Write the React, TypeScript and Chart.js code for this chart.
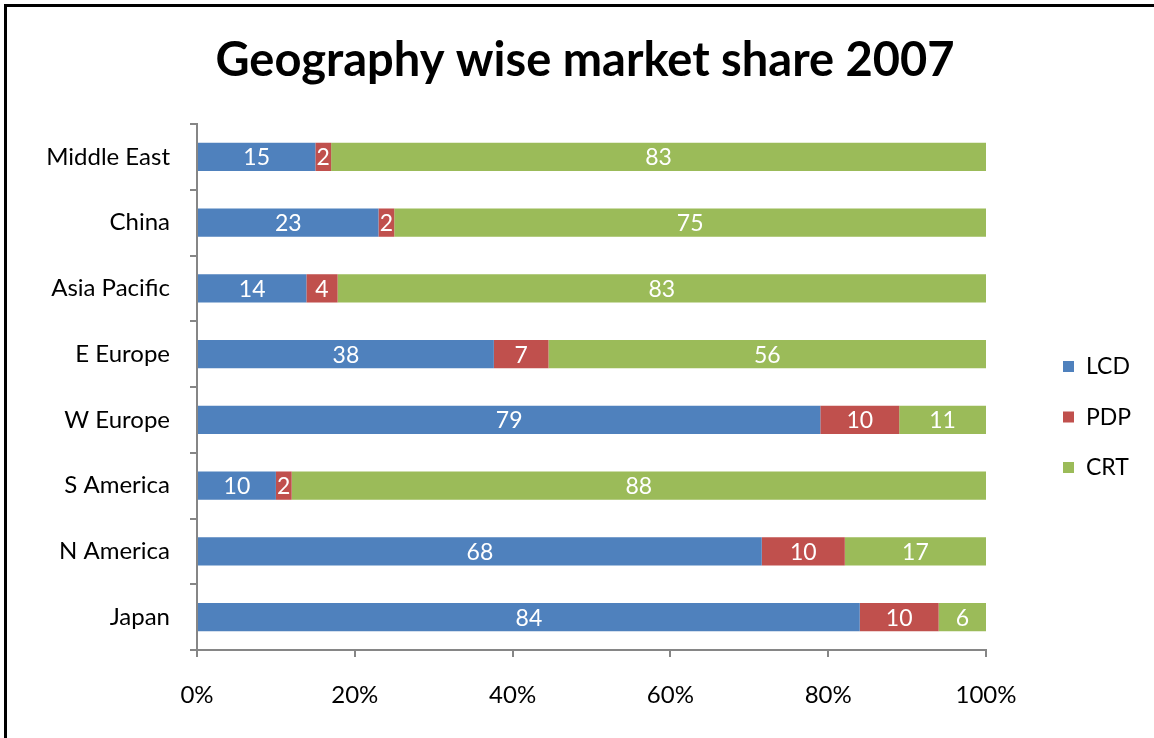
import React, { useEffect, useRef } from "react";
import { Chart, registerables } from "chart.js";

Chart.register(...registerables);

const categories = ["Middle East", "China", "Asia Pacific", "E Europe", "W Europe", "S America", "N America", "Japan"];
const lcdValues = [15, 23, 14, 38, 79, 10, 68, 84];
const pdpValues = [2, 2, 4, 7, 10, 2, 10, 10];
const crtValues = [83, 75, 83, 56, 11, 88, 17, 6];
const seriesNames = ["LCD", "PDP", "CRT"];
const seriesColors = ["#4F81BD", "#C0504D", "#9BBB59"];
const xTicks = [0, 20, 40, 60, 80, 100];
const titleText = "Geography wise market share 2007";

const FONT = "Lato, 'Noto Sans', sans-serif";

const rawSeries = [lcdValues, pdpValues, crtValues];
const totals = categories.map((_, i) => rawSeries.reduce((s, arr) => s + arr[i], 0));
const pctSeries = rawSeries.map((arr) => arr.map((v, i) => (v / totals[i]) * 100));

const labelPlugin = {
  id: "segLabels",
  afterDatasetsDraw(chart: any) {
    const ctx = chart.ctx;
    ctx.save();
    ctx.fillStyle = "#FFFFFF";
    ctx.font = `23px ${FONT}`;
    ctx.textAlign = "center";
    ctx.textBaseline = "middle";
    chart.data.datasets.forEach((ds: any, di: number) => {
      const meta = chart.getDatasetMeta(di);
      meta.data.forEach((bar: any, i: number) => {
        const raw = ds.raw[i];
        const cx = (bar.x + bar.base) / 2;
        ctx.fillText(String(raw), cx, bar.y + 1);
      });
    });
    ctx.restore();
  },
};

const titleLegendPlugin = {
  id: "titleLegend",
  afterDraw(chart: any) {
    const ctx = chart.ctx;
    ctx.save();
    ctx.fillStyle = "#000000";
    ctx.font = `bold 47px ${FONT}`;
    ctx.textAlign = "center";
    ctx.textBaseline = "middle";
    ctx.fillText(titleText, 585, 61);

    ctx.font = `23px ${FONT}`;
    ctx.textBaseline = "middle";
    ctx.textAlign = "left";
    chart.data.datasets.forEach((ds: any, di: number) => {
      const y = 366 + di * 50.5;
      ctx.fillStyle = ds.backgroundColor;
      ctx.fillRect(1063, y - 5, 11, 11);
      ctx.fillStyle = "#000000";
      ctx.fillText(ds.label, 1086, y + 1);
    });
    ctx.restore();
  },
};

export default function App() {
  const ref = useRef<HTMLCanvasElement>(null);
  useEffect(() => {
    if (!ref.current) return;
    const chart = new Chart(ref.current, {
      type: "bar",
      data: {
        labels: categories,
        datasets: seriesNames.map((name, k) => ({
          label: name,
          data: pctSeries[k],
          raw: rawSeries[k],
          backgroundColor: seriesColors[k],
          borderWidth: 0,
          barPercentage: 0.43,
          categoryPercentage: 1,
        })) as any,
      },
      options: {
        indexAxis: "y",
        responsive: false,
        animation: false,
        layout: { padding: { top: 124, left: 0, right: 168, bottom: 0 } },
        plugins: {
          legend: { display: false },
          tooltip: { enabled: false },
          title: { display: false },
        },
        scales: {
          x: {
            type: "linear",
            stacked: true,
            min: 0,
            max: 100,
            afterBuildTicks: (s: any) => {
              s.ticks = xTicks.map((v) => ({ value: v }));
            },
            afterFit: (s: any) => {
              s.height = 88;
            },
            ticks: {
              callback: (v: any) => v + "%",
              color: "#000000",
              font: { family: FONT, size: 24 },
              padding: 24,
            },
            grid: { drawOnChartArea: false, drawTicks: true, tickLength: 7, color: "#868686", lineWidth: 2 },
            border: { color: "#868686", width: 2 },
          },
          y: {
            stacked: true,
            afterFit: (s: any) => {
              s.width = 197;
            },
            ticks: {
              color: "#000000",
              font: { family: FONT, size: 24 },
              padding: 20,
            },
            grid: { offset: true, drawOnChartArea: false, drawTicks: true, tickLength: 7, color: "#868686", lineWidth: 2 },
            border: { color: "#868686", width: 2 },
          },
        },
      } as any,
      plugins: [labelPlugin, titleLegendPlugin],
    });
    return () => chart.destroy();
  }, []);

  return (
    <div style={{ position: "fixed", top: 0, left: 0, width: 1154, height: 738, overflow: "hidden", background: "#fff" }}>
      <div
        style={{
          position: "absolute",
          top: 4,
          left: 4,
          width: 1200,
          height: 800,
          borderTop: "3px solid #000",
          borderLeft: "3px solid #000",
          boxSizing: "border-box",
        }}
      />
      <canvas ref={ref} width={1154} height={738} style={{ position: "absolute", top: 0, left: 0 }} />
    </div>
  );
}
